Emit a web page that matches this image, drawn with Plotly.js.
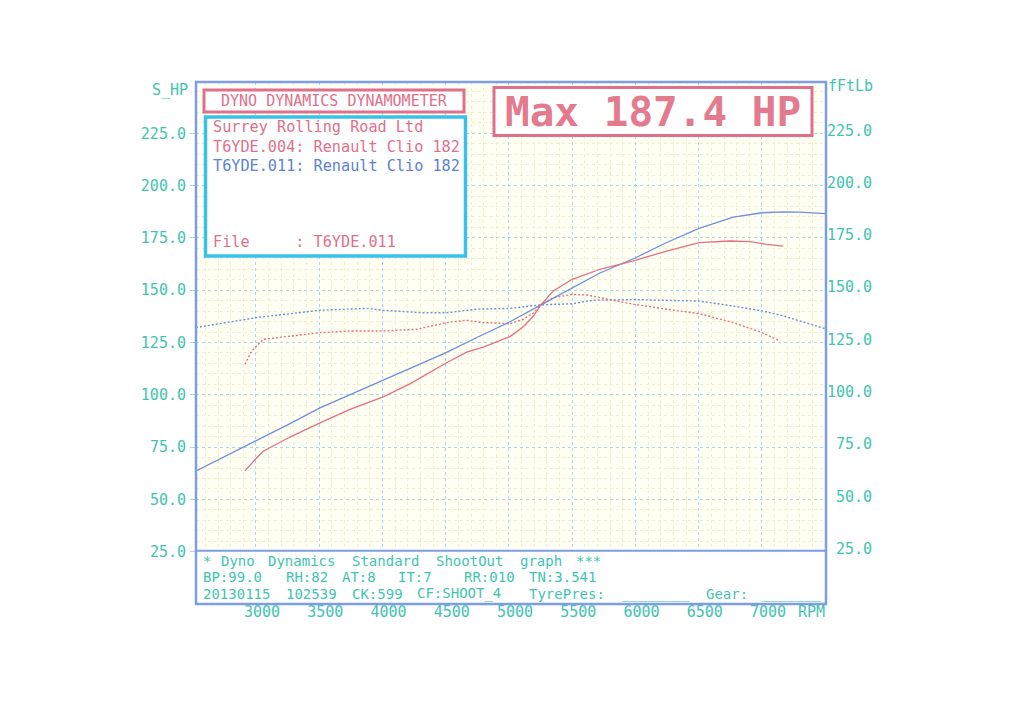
<!DOCTYPE html>
<html>
<head>
<meta charset="utf-8">
<script src="https://cdn.plot.ly/plotly-3.0.1.min.js"></script>
<style>html,body{margin:0;padding:0;background:#fff;}#chart{width:1024px;height:704px;}</style>
</head>
<body>
<div id="chart"></div>
<script>
// ---- data ----
const rpmTicks = [3000, 3500, 4000, 4500, 5000, 5500, 6000, 6500, 7000];
const hpTicks = [25, 50, 75, 100, 125, 150, 175, 200, 225];

// T6YDE.011 (blue) power, HP
const blueRpm = [2526, 2750, 3005, 3250, 3506, 3750, 4006, 4250, 4507, 4750, 5008, 5252, 5500, 5719, 6001, 6247, 6502, 6773, 7002, 7168, 7300, 7500];
const bluePower = [63.6, 70.4, 77.9, 85.6, 93.7, 100.2, 106.9, 113.2, 120.3, 127.5, 134.9, 143.0, 151.2, 158.2, 165.5, 172.8, 179.5, 184.9, 187.0, 187.4, 187.3, 186.6];
// T6YDE.011 (blue) torque, ftlb
const blueTqRpm = [2526, 3005, 3506, 3874, 4006, 4322, 4507, 4744, 5008, 5252, 5500, 5666, 5983, 6502, 6773, 7002, 7168, 7472, 7500];
const blueTorque = [132.1, 136.9, 140.4, 141.3, 140.4, 139.2, 139.2, 140.9, 141.3, 143.0, 143.5, 145.2, 145.5, 144.8, 142.4, 140.1, 137.7, 132.1, 131.6];

// T6YDE.004 (red) power, HP
const redRpm = [2913, 2966, 3006, 3058, 3190, 3269, 3506, 3743, 4006, 4217, 4507, 4665, 4797, 5008, 5113, 5192, 5252, 5350, 5500, 5719, 5983, 6247, 6502, 6747, 6905, 7037, 7168];
const redPower = [63.6, 67.5, 69.9, 73.0, 77.1, 79.8, 86.6, 93.0, 99.0, 105.2, 115.3, 120.4, 122.8, 127.8, 132.5, 137.5, 143.0, 149.6, 155.2, 160.0, 164.0, 168.7, 172.7, 173.5, 173.2, 171.9, 171.1];
// T6YDE.004 (red) torque, ftlb
const redTqRpm = [2913, 2966, 3058, 3269, 3506, 3743, 4006, 4270, 4507, 4665, 4797, 5008, 5113, 5192, 5252, 5350, 5500, 5614, 5983, 6247, 6502, 6773, 7002, 7142];
const redTorque = [114.6, 120.9, 126.5, 128.1, 129.7, 130.5, 130.5, 131.3, 134.5, 135.6, 134.5, 134.0, 136.1, 139.0, 143.0, 146.4, 148.0, 147.7, 143.3, 140.9, 138.8, 134.5, 129.7, 125.7];

// footer text: [token, character column]
const footerLine1 = [['*', 0], ['Dyno', 2], ['Dynamics', 7], ['Standard', 16], ['ShootOut', 25], ['graph', 34], ['***', 40]];
const footerLine2 = [['BP:99.0', 0], ['RH:82', 9], ['AT:8', 15], ['IT:7', 21], ['RR:010', 28], ['TN:3.541', 35]];
const footerLine3 = [['20130115', 0], ['102539', 9], ['CK:599', 16], ['CF:SHOOT_4', 23], ['TyrePres:', 35], ['________', 45], ['Gear:', 54], ['_______', 60]];

// ---- styling ----
const TEAL = '#3fc4b0';
const PINK = '#e0708a';
const BLUE_TXT = '#5b82d4';
const FRAME = '#7d9de4';
const CYAN = '#38c2ea';
const MONO = 'DejaVu Sans Mono, Liberation Mono, monospace';
const NB = '\u00a0';

const lineBlue = '#6c8fdc';
const lineRed = '#e66f80';

const traces = [
  {x: blueTqRpm, y: blueTorque, mode: 'lines', line: {color: lineBlue, width: 1.4, dash: '2px,2px'}, hoverinfo: 'skip'},
  {x: redTqRpm, y: redTorque, mode: 'lines', line: {color: lineRed, width: 1.4, dash: '2px,2px'}, hoverinfo: 'skip'},
  {x: blueRpm, y: bluePower, mode: 'lines', line: {color: lineBlue, width: 1.3}, hoverinfo: 'skip'},
  {x: redRpm, y: redPower, mode: 'lines', line: {color: lineRed, width: 1.3}, hoverinfo: 'skip'},
  // invisible trace to activate the right-hand axis
  {x: [3000], y: [100], yaxis: 'y2', mode: 'markers', marker: {opacity: 0}, hoverinfo: 'skip'}
];

const fmt = v => v.toFixed(1);
const pad5 = s => (s.length < 5 ? NB.repeat(5 - s.length) : '') + s;

// pixel helpers (plot area: x 196..826, y 82..604)
const px = x => (x - 196) / 630;
const py = y => (604 - y) / 522;

function txt(text, x, y, opts) {
  return Object.assign({
    text: text, xref: 'paper', yref: 'paper', x: px(x), y: py(y),
    xanchor: 'left', yanchor: 'middle', showarrow: false,
    font: {family: MONO, size: 15, color: TEAL}
  }, opts || {});
}

const CW = 9.33;   // character pitch of the footer
function footer(tokens, y) {
  return tokens.map(t => txt(t[0], 200.5 + t[1] * CW, y, {font: {family: MONO, size: 14, color: TEAL}}));
}

const layout = {
  width: 1024, height: 704,
  margin: {l: 196, r: 198, t: 82, b: 100, pad: 0},
  paper_bgcolor: '#ffffff',
  plot_bgcolor: '#fffff4',
  showlegend: false,
  xaxis: {
    range: [2526, 7506],
    tickvals: rpmTicks,
    ticktext: rpmTicks.map(String),
    ticks: '',
    showline: false, zeroline: false,
    showgrid: true, gridcolor: '#a6d9ee', gridwidth: 1, griddash: 'dot',
    minor: {dtick: 100, showgrid: true, gridcolor: '#f0eecc', gridwidth: 1},
    tickfont: {family: MONO, size: 15, color: TEAL},
    ticklabelshift: 6, ticklabelstandoff: -3
  },
  yaxis: {
    range: [0, 249.5],
    tickvals: hpTicks,
    ticktext: hpTicks.map(fmt),
    ticks: 'outside', ticklen: 5, tickcolor: '#9fd9ea', tickwidth: 1,
    showline: false, zeroline: false,
    showgrid: true, gridcolor: '#a6d9ee', gridwidth: 1, griddash: 'dot',
    minor: {dtick: 5, showgrid: true, gridcolor: '#f0eecc', gridwidth: 1},
    tickfont: {family: MONO, size: 15, color: TEAL},
    ticklabelstandoff: 1
  },
  yaxis2: {
    overlaying: 'y', side: 'right',
    range: [-1.43, 248.07],
    tickvals: hpTicks,
    ticktext: hpTicks.map(v => pad5(fmt(v))),
    ticks: '', showgrid: false, zeroline: false, showline: false,
    tickfont: {family: MONO, size: 15, color: TEAL},
    ticklabelstandoff: 0
  },
  shapes: [
    // bottom info strip
    {type: 'rect', xref: 'paper', yref: 'y', x0: 0, x1: 1, y0: 0, y1: 25.5, fillcolor: '#ffffff', line: {color: FRAME, width: 2}, layer: 'above'},
    // outer frame
    {type: 'rect', xref: 'paper', yref: 'paper', x0: 0, x1: 1, y0: 0, y1: 1, line: {color: FRAME, width: 2.5}, layer: 'above'},
    // DYNO DYNAMICS box
    {type: 'rect', xref: 'paper', yref: 'paper', x0: px(204), x1: px(464), y0: py(112), y1: py(90), fillcolor: '#ffffff', line: {color: PINK, width: 3}, layer: 'above'},
    // info box
    {type: 'rect', xref: 'paper', yref: 'paper', x0: px(205.5), x1: px(465.5), y0: py(256), y1: py(117), fillcolor: '#ffffff', line: {color: CYAN, width: 3.5}, layer: 'above'},
    // Max box
    {type: 'rect', xref: 'paper', yref: 'paper', x0: px(494), x1: px(812), y0: py(135.5), y1: py(87.5), fillcolor: '#ffffff', line: {color: PINK, width: 3}, layer: 'above'}
  ],
  annotations: [
    txt('DYNO DYNAMICS DYNAMOMETER', 334, 101.5, {xanchor: 'center', font: {family: MONO, size: 15, color: PINK}}),
    txt('Max 187.4 HP', 653, 111.5, {xanchor: 'center', font: {family: MONO, size: 41, color: '#e37a8e', weight: 'bold'}}),
    txt('Surrey Rolling Road Ltd', 211, 127.5, {font: {family: MONO, size: 15.2, color: PINK}}),
    txt('T6YDE.004: Renault Clio 182', 211, 147.5, {font: {family: MONO, size: 15.2, color: PINK}}),
    txt('T6YDE.011: Renault Clio 182', 211, 165.5, {font: {family: MONO, size: 15.2, color: BLUE_TXT}}),
    txt('File' + NB.repeat(5) + ':' + NB + 'T6YDE.011', 211, 241.5, {font: {family: MONO, size: 15.2, color: PINK}}),
    txt('S_HP', 190, 90, {xanchor: 'right'}),
    txt('fFtLb', 826, 86),
    txt('RPM', 827, 612, {xanchor: 'right'})
  ].concat(footer(footerLine1, 561), footer(footerLine2, 577.3), footer(footerLine3, 593.6))
};

Plotly.newPlot('chart', traces, layout, {staticPlot: true, displayModeBar: false});
</script>
</body>
</html>
